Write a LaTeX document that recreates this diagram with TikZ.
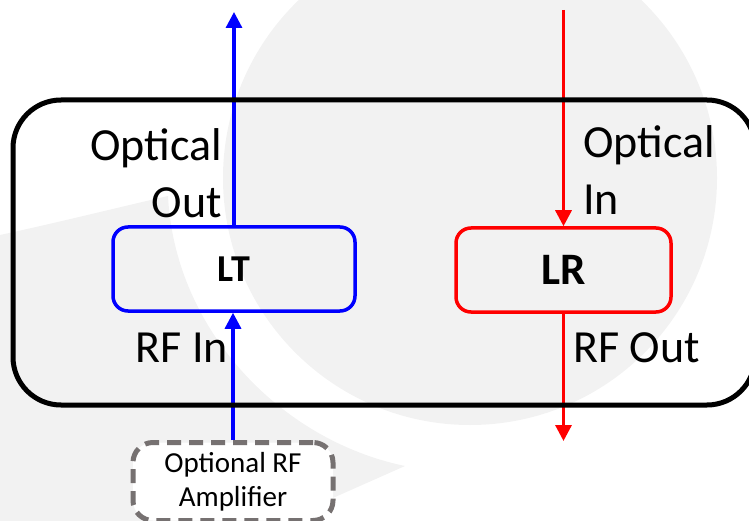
\documentclass[tikz,border=0pt]{standalone}
\usepackage{fontspec}
\setmainfont{Carlito}
\usetikzlibrary{arrows.meta}
\definecolor{wm}{RGB}{242,242,242}
\definecolor{ampgray}{RGB}{118,113,113}
\begin{document}
\begin{tikzpicture}[x=1pt,y=-1pt,
  lbl/.style={font=\fontsize{46}{57}\selectfont, inner sep=0pt},
  blk/.style={draw, line width=3.5pt, rounded corners=15pt, minimum height=84pt, inner sep=0pt},
  sig/.style={line width=3.2pt, -{Triangle[length=16pt,width=16pt]}},
]
\useasboundingbox (0,0) rectangle (749,521);
\clip (0,0) rectangle (749,521);
% watermark
\fill[wm] (470,178) circle[radius=247];
\fill[wm] (0,235) .. controls (60,222) and (120,207) .. (168,196)
  .. controls (175,330) and (280,440) .. (405,466) -- (281,521) -- (0,521) -- cycle;
% blocks
\node[blk, draw=blue, minimum width=242pt, font=\bfseries\fontsize{38}{46}\selectfont] (LT) at (234,269) {LT};
\node[blk, draw=red, minimum width=215pt, font=\bfseries\fontsize{45}{54}\selectfont] (LR) at (563.5,270) {LR};
\node[draw=ampgray, fill=white, line width=5pt, dash pattern=on 14pt off 8pt, rounded corners=20pt,
  minimum width=200pt, minimum height=78pt, inner sep=0pt, align=center,
  font=\fontsize{29}{34}\selectfont] (amp) at (233,481.5) {Optional RF\\Amplifier};
% connectors
\coordinate (otop) at (234,12);
\coordinate (itop) at (563.5,10);
\coordinate (rfout) at (563.5,441);
\draw[sig, blue] (LT.north) -- (otop);
\draw[sig, blue] (amp.north) -- (amp.north |- LT.south);
\draw[sig, red] (itop) -- (LR.north);
\draw[sig, red] (LR.south) -- (rfout);
% outer system box
\node[draw, line width=5pt, rounded corners=48pt, minimum width=742pt, minimum height=305pt, inner sep=0pt] (sys) at (384,252.5) {};
% labels
\node[lbl, anchor=base east, align=right] (oout) at (222,218) {Optical\\Out};
\node[lbl, anchor=base west, align=left] (oin) at (583,215) {Optical\\In};
\node[lbl, anchor=base east] (rfin) at (228,362) {RF In};
\node[lbl, anchor=base west] (rfo) at (573,362) {RF Out};
\end{tikzpicture}
\end{document}
